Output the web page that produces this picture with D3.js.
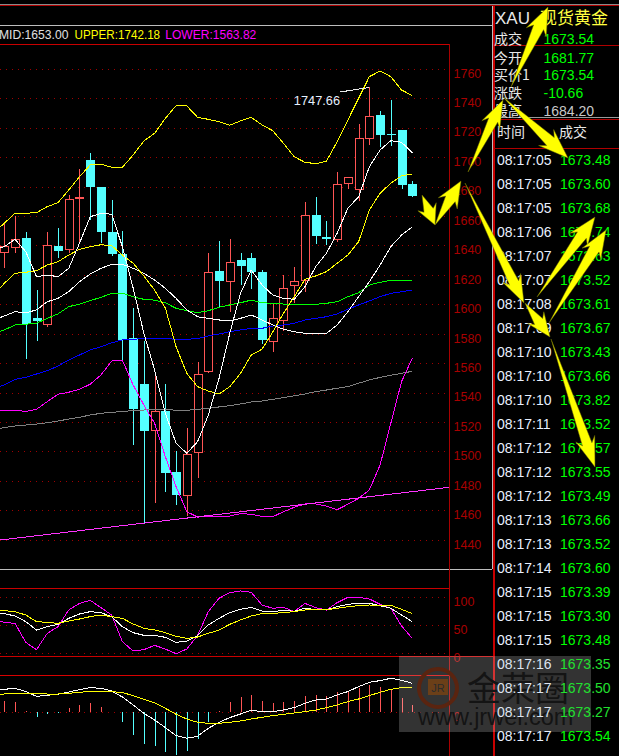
<!DOCTYPE html>
<html>
<head>
<meta charset="utf-8">
<script src="https://cdn.jsdelivr.net/npm/d3@7/dist/d3.min.js"></script>
<style>
  html, body { margin: 0; padding: 0; background: #000; overflow: hidden; }
  text { font-family: "Liberation Sans", Arial, sans-serif; }
  .cjk { font-family: "Noto Sans CJK SC", sans-serif; }
</style>
</head>
<body>
<div class="canvas"></div>
<script>
// candles: top of body, bottom of body, high, low, rising?
const bodyTop = [1639.5,1644.5,1645.4,1590.8,1640.4,1640,1671.7,1673.1,1698.4,1680,1649.5,1634.5,1577.2,1546.2,1527.6,1528,1486.4,1498.6,1552.8,1622.1,1623,1628.9,1630.4,1631.8,1622.5,1590.8,1611.2,1615.7,1660.8,1661,1646,1681.9,1686.6,1713.1,1728.1,1728.8,1715.8,1718.8,1681.9];
const bodyBottom = [1635.7,1639.1,1586.8,1589,1586.8,1636.8,1637.7,1672.8,1680.2,1649.7,1634.5,1576.1,1529.2,1514.5,1514.5,1485.9,1471,1470.3,1499.5,1554.6,1616.2,1615.7,1626.4,1622.5,1576.1,1574.9,1589.2,1613,1616.6,1646.7,1644.9,1644.2,1682.3,1678.5,1713.1,1715.6,1715.5,1681.6,1674.1];
const highs = [1655.6,1660.3,1649.7,1610.1,1649.5,1652,1674.6,1692.3,1702.9,1680,1671.2,1650.1,1598,1575.4,1553.9,1546.2,1500.5,1516.3,1561.1,1635,1643.4,1644.7,1635,1635,1623.6,1601.2,1620.2,1625.5,1669.8,1673.2,1656.9,1690.2,1686.6,1722.8,1747.66,1731.7,1739.1,1718.8,1684.1];
const lows = [1625,1635.4,1563,1575.6,1585.1,1631.8,1635,1642.9,1657.6,1642.2,1633.2,1562.5,1504.7,1451.6,1465.6,1473,1464,1456.5,1482.5,1553.5,1597.6,1595.3,1613.5,1610.7,1573.4,1568.1,1582.4,1601.2,1608.9,1641.3,1640.4,1642.7,1678.7,1670.5,1708.8,1707.4,1707.9,1678.9,1673.4];
const rising = [1,1,0,0,1,0,1,1,0,0,0,0,0,0,1,0,0,1,1,1,0,1,0,0,0,1,1,1,1,0,0,1,1,1,1,0,0,0,0];

// overlay lines, first value sits one bar left of the first candle
const upper = [1648.8,1655.4,1662.2,1662.2,1662.6,1666.7,1669.4,1678,1687,1695,1695.5,1693.4,1693.4,1701.8,1711.3,1716.5,1726.7,1735.3,1735.1,1727.4,1726,1724.4,1722,1724.9,1727.4,1722.2,1718.3,1709.7,1700.6,1696.8,1695.9,1697.5,1710.8,1725.6,1740.3,1755,1758.8,1755,1745.9,1742.18];
const mid = [1589.7,1592.4,1595.3,1594.6,1596.5,1602.1,1604.4,1608.9,1615.7,1620.9,1624.8,1627.5,1627.5,1624.8,1621.4,1616.8,1611.2,1604.4,1596.5,1591.9,1590.8,1589.7,1589,1590.8,1593.1,1589.7,1586.3,1583.4,1581.7,1580.6,1580.6,1580.6,1586.3,1595.3,1605.5,1615.7,1627,1639.5,1647.4,1653];
const lower = [1528.3,1528.3,1528.3,1527.6,1529,1534.2,1539.2,1540.6,1542.6,1546,1552.3,1561.8,1562.3,1545.5,1531.9,1519.5,1496.8,1476.4,1459.4,1455.8,1456,1456.5,1456.5,1458.1,1457.7,1456.3,1456,1459.4,1462.4,1464.7,1464.7,1463.3,1460.8,1464.5,1468.5,1474.2,1491.2,1519.5,1547.8,1563.82];
const ma5 = [1637,1639.5,1644.5,1636.1,1619.1,1620.2,1619.1,1624.8,1641.8,1659.8,1662.2,1661.5,1639.5,1611.4,1580.6,1555.7,1526.3,1505.9,1499.1,1507,1525.1,1550,1580.6,1607.8,1623.6,1613.5,1606.7,1604.4,1603.7,1612.3,1625.9,1635,1648.6,1665.6,1673.4,1693.8,1705.2,1711.5,1710.4,1703.3];
const ma10 = [1606.6,1614.6,1621.4,1622.1,1623.2,1627,1629.3,1633.8,1637.7,1639.5,1640.8,1640.2,1633.8,1628.2,1619.6,1610,1597.8,1571.5,1553.4,1544.4,1541.4,1539.4,1544.4,1553.4,1565.9,1569.8,1581.5,1594.2,1605.5,1617.3,1619.6,1622.5,1628.2,1633.8,1642.9,1664.4,1675.8,1682.6,1687.7,1688.9];
const ma30 = [1580.8,1582.9,1586.3,1586.8,1587.4,1590.8,1593.8,1598.7,1600.5,1602.8,1605.1,1607.8,1607.8,1605.5,1603.7,1603.2,1601.4,1597.6,1596,1594.6,1596,1598.3,1599.9,1601.4,1603.2,1601.4,1601,1600.5,1600.3,1600.3,1600.3,1601,1602.1,1605.5,1608.2,1613.4,1615.3,1616.6,1616.6,1616.6];
const ma60 = [1543.5,1545.5,1549.4,1550.7,1553,1555.2,1558.4,1562.5,1565.9,1569.3,1571.5,1574.2,1576.1,1576.6,1577,1577,1577,1576.6,1576.6,1577,1578.8,1580.2,1581.7,1582.9,1584,1584,1585.6,1586.3,1587.4,1589.7,1590.8,1591.9,1593.8,1597,1599.9,1602.6,1605.5,1607.8,1608.9,1610.1];
const ma120 = [1515.4,1516.6,1517.7,1518.3,1519,1519.9,1521,1522.4,1523.6,1525.1,1526.3,1527,1527.4,1528.3,1528.5,1529,1529,1528.3,1528.3,1529,1529.7,1530.6,1531.5,1532.6,1534,1534.6,1535.8,1536.9,1538.2,1539.4,1541,1542.1,1543.3,1544.4,1546.7,1548.9,1550.7,1552.1,1553.5,1554.8];
// hand drawn trend line on the price chart: [bar index, price]
const trendLine = [[-0.4,1440.2],[41.43,1476]];

// kdj panel
const kLine = [71.6,71,66.9,56.8,42,47.9,52.1,62.7,70.4,74.6,72.8,65.7,47.9,37.3,32.5,32.5,29,20.1,22.5,32,50.9,62.7,72.8,78.7,82.2,75.7,74.6,76.9,75.1,80.5,78.1,77.5,83.4,87.6,89.3,89.3,85.2,80.5,68.6,56.8];
const dLine = [78.7,76.3,74.6,68.6,56.8,55.6,53.8,58,61.5,65.7,68.6,65.7,62.7,52.7,45,42,37.3,30.8,27.2,29.6,36.1,42,52.1,59.8,66.9,71,71.6,72.8,74.6,77.5,77.5,78.1,80.5,83.4,85.2,86.4,85.8,85.8,78.7,71];
const jLine = [59.8,55.6,53.8,20.1,7.1,36.1,47.9,77.5,89.3,94.7,81.7,68.6,21.3,4.7,7.1,14.8,8.3,0,8.3,32,74.6,98.2,108.3,111.2,108.9,86.4,80.5,82.2,74.6,89.3,81.7,77.5,90.5,100,100,97,87.6,80.5,49.1,27.2];

// macd panel
const difLine = [23,23,24,20.7,16,17,18,20.3,22.7,24.7,24,21.3,15.3,7.3,-1,-7.7,-15.3,-23.3,-26,-24,-16,-10,-5.3,-1.7,2,0.7,0.7,2.3,4.7,9,12.3,13.3,17.3,20.7,25.7,30,31.7,34,32,29];
const deaLine = [18,18.3,18.7,19,18.7,18.3,18.3,19,20,21,21,20.7,19.7,16.7,13,9.3,4,-2,-6.7,-10,-11,-11,-10,-8.7,-6.7,-5,-3.3,-2,-0.7,0.7,2.3,4.7,7.3,10.7,13.3,16.7,20,23,24.7,25];
const macdBars = [11.3,10.3,1.3,-4.7,-1.7,-0.3,4,7.3,9.3,5.3,0,-9.3,-22.7,-31.7,-33.3,-39.3,-42.7,-38.3,-26.7,-10,1.3,10.7,15.3,17.3,11.7,9.7,10.3,11.7,16.3,17.3,16.3,20.3,21,24.3,27.3,25.3,22.7,14.3,7.3];

// axis ticks
const priceTicks = d3.range(1440, 1761, 20);
const kdjTicks = [0, 50, 100];

// quote panel
const quoteLabels = ['成交','今开','买价1','涨跌','最高'];
const quoteValues = ['1673.54','1681.77','1673.54','-10.66','1684.20'];
const tickTimes = ['08:17:05','08:17:05','08:17:05','08:17:06','08:17:07','08:17:07','08:17:08','08:17:09','08:17:10','08:17:10','08:17:10','08:17:11','08:17:12','08:17:12','08:17:12','08:17:13','08:17:13','08:17:14','08:17:15','08:17:15','08:17:15','08:17:16','08:17:17','08:17:17','08:17:17'];
const tickPrices = ['1673.48','1673.60','1673.68','1673.74','1673.63','1673.52','1673.61','1673.67','1673.43','1673.66','1673.82','1673.52','1673.57','1673.55','1673.49','1673.66','1673.52','1673.60','1673.39','1673.30','1673.48','1673.35','1673.50','1673.27','1673.54'];

// pasted arrows: x1,y1 tail, x2,y2 tip, head length, head half width
const arrows = [
  [422,195,435,225,20,10],
  [435,225,461,181,26,11],
  [468,172,503,100,28,10],
  [511,87,548,7,28,11],
  [503,97,568,158,30,11],
  [465,183,524,303,28,10],
  [525,303,550,337,24,10],
  [551,339,595,467,30,10],
  [537,297,595,217,28,11],
  [549,323,606,230,28,11]
];

const width = 619, height = 756;
const svg = d3.select('.canvas').append('svg')
  .attr('width', width).attr('height', height)
  .style('display', 'block').style('background', '#000');

const x = d3.scaleLinear().domain([0, 38]).range([4.3, 412.3]);
const y = d3.scaleLinear().domain([1760, 1440]).range([69.3, 540.3]);
const yKdj = d3.scaleLinear().domain([100, 0]).range([597.3, 653.7]);
const yMacd = d3.scaleLinear().domain([0, -10]).range([712.3, 722.3]);

const axisRed = '#a80000', frameRed = '#c80000', frameGray = '#bdbdbd';
const candleRed = '#ff5555', candleCyan = '#54ffff';

svg.append('clipPath').attr('id', 'plot').append('rect')
  .attr('width', 449).attr('height', height);

function hline(g, yv, x1, x2, color) {
  g.append('line').attr('x1', x1).attr('x2', x2).attr('y1', yv).attr('y2', yv)
    .attr('stroke', color).attr('shape-rendering', 'crispEdges');
}
function vline(g, xv, y1, y2, color, w) {
  g.append('line').attr('x1', xv).attr('x2', xv).attr('y1', y1).attr('y2', y2)
    .attr('stroke', color).attr('stroke-width', w || 1).attr('shape-rendering', 'crispEdges');
}

// dotted grid
const grid = svg.append('g').attr('stroke', '#a00000').attr('stroke-dasharray', '1 5').attr('shape-rendering', 'crispEdges');
const gridY = priceTicks.map(y).concat(kdjTicks.map(yKdj), [yMacd(0)]);
grid.selectAll('line').data(gridY).join('line')
  .attr('x1', 0).attr('x2', 449).attr('y1', d => d).attr('y2', d => d);

// frames
const frame = svg.append('g');
hline(frame, 25.5, 0, 492, frameGray);
hline(frame, 44.5, 0, 449, frameRed);
hline(frame, 569.5, 0, 492, frameGray);
hline(frame, 588.5, 0, 449, frameRed);
hline(frame, 656.5, 0, 493, frameRed);
hline(frame, 675.5, 0, 449, '#d80000');
vline(frame, 449.5, 44, 756, axisRed);
hline(frame, 4.5, 0, 619, '#8a8a8a');
hline(frame, 5.5, 0, 619, '#b00000');
vline(frame, 492.5, 6, 569, frameGray);
vline(frame, 494, 6, 756, '#c80000', 2);
hline(frame, 45.5, 494, 619, '#b00000');
hline(frame, 117.5, 494, 619, '#9a9a9a');
hline(frame, 119.5, 494, 619, '#b00000');
hline(frame, 148.5, 494, 619, '#b00000');

const plot = svg.append('g').attr('clip-path', 'url(#plot)');

// candles
const candles = plot.append('g').attr('shape-rendering', 'crispEdges');
bodyTop.forEach((t, i) => {
  const color = rising[i] ? candleRed : candleCyan;
  const cx = Math.round(x(i)) + 0.5;
  candles.append('line').attr('x1', cx).attr('x2', cx)
    .attr('y1', y(highs[i])).attr('y2', y(lows[i])).attr('stroke', color);
  const h = Math.max(y(bodyBottom[i]) - y(t), 1);
  if (rising[i]) {
    candles.append('rect').attr('x', cx - 4).attr('y', y(t)).attr('width', 8).attr('height', h)
      .attr('fill', '#000').attr('stroke', color);
  } else {
    candles.append('rect').attr('x', cx - 4.5).attr('y', y(t)).attr('width', 9).attr('height', h)
      .attr('fill', color);
  }
});

const lineX = (d, i) => x(i - 1);
const priceLine = d3.line().x(lineX).y(d => y(d));
const kdjLine = d3.line().x(lineX).y(d => yKdj(d));
const macdLine = d3.line().x(lineX).y(d => yMacd(d));

function drawLine(gen, values, color) {
  plot.append('path').attr('d', gen(values)).attr('fill', 'none')
    .attr('stroke', color).attr('shape-rendering', 'crispEdges');
}

drawLine(priceLine, ma120, '#808080');
drawLine(priceLine, ma60, '#0000ff');
drawLine(priceLine, ma30, '#00ff00');
drawLine(priceLine, mid, '#ffffff');
drawLine(priceLine, lower, '#ff00ff');
drawLine(priceLine, upper, '#ffff00');
drawLine(priceLine, ma10, '#ffff00');
drawLine(priceLine, ma5, '#ffffff');

plot.append('path')
  .attr('d', d3.line().x(d => x(d[0])).y(d => y(d[1]))(trendLine))
  .attr('stroke', '#ff33ff').attr('fill', 'none').attr('shape-rendering', 'crispEdges');

// high marker
const hiIndex = highs.indexOf(d3.max(highs));
svg.append('line')
  .attr('x1', x(hiIndex) - 29).attr('y1', y(highs[hiIndex]) + 4.5)
  .attr('x2', x(hiIndex)).attr('y2', y(highs[hiIndex]))
  .attr('stroke', '#e8e8e8').attr('shape-rendering', 'crispEdges');
svg.append('text').attr('x', x(hiIndex) - 75.5).attr('y', y(highs[hiIndex]) + 17.5)
  .attr('fill', '#e4f0ff').attr('font-size', 12.8).text(d3.max(highs).toFixed(2));

// kdj
drawLine(kdjLine, jLine, '#ff00ff');
drawLine(kdjLine, kLine, '#ffffff');
drawLine(kdjLine, dLine, '#ffff00');

// macd
plot.append('g').attr('shape-rendering', 'crispEdges').selectAll('line').data(macdBars).join('line')
  .attr('x1', (d, i) => Math.round(x(i)) + 0.5).attr('x2', (d, i) => Math.round(x(i)) + 0.5)
  .attr('y1', yMacd(0)).attr('y2', d => yMacd(d))
  .attr('stroke', d => d >= 0 ? candleRed : candleCyan);
drawLine(macdLine, difLine, '#ffffff');
drawLine(macdLine, deaLine, '#ffff00');

// axes
function drawAxis(scale, ticks) {
  const g = svg.append('g').attr('transform', 'translate(449.5,0)')
    .call(d3.axisRight(scale).tickValues(ticks).tickSize(0).tickPadding(4).tickFormat(d3.format('d')));
  g.select('.domain').remove();
  g.selectAll('text').attr('fill', axisRed).attr('dy', 7.8).attr('font-size', 12.5)
    .attr('font-family', '"Liberation Sans", Arial, sans-serif');
}
drawAxis(y, priceTicks);
drawAxis(yKdj, kdjTicks);
drawAxis(yMacd, [0]);

// legend
function legend(xv, len, color, label) {
  svg.append('text').attr('x', xv).attr('y', 38.5).attr('font-size', 12.6).attr('fill', color)
    .attr('textLength', len).attr('lengthAdjust', 'spacingAndGlyphs').text(label);
}
legend(-1, 69.5, '#e0e0e0', 'MID:' + mid[mid.length - 1].toFixed(2));
legend(74.6, 85.5, '#ffff00', 'UPPER:' + upper[upper.length - 1].toFixed(2));
legend(165.3, 91, '#ff00ff', 'LOWER:' + lower[lower.length - 1].toFixed(2));

// watermark plate and dark logo sit under the quote text
const wm = svg.append('g');
wm.append('rect').attr('x', 399).attr('y', 656).attr('width', 192).attr('height', 76).attr('fill', '#fff').attr('opacity', 0.2);
wm.append('circle').attr('cx', 438).attr('cy', 688).attr('r', 19).attr('fill', 'none').attr('stroke', '#5a2410').attr('stroke-width', 4);
wm.append('rect').attr('x', 428).attr('y', 679).attr('width', 20).attr('height', 16).attr('fill', '#6b3f18');
wm.append('text').attr('x', 438).attr('y', 692).attr('text-anchor', 'middle').attr('font-size', 11).attr('fill', '#2c2c2c').text('JR');
wm.append('text').attr('class', 'cjk').attr('x', 467).attr('y', 701).attr('font-size', 34).attr('fill', '#141414').text('金荣圈');
wm.append('text').attr('x', 418).attr('y', 725).attr('font-size', 23.5).attr('fill', '#141414').text('www.jrwei.com');

// quote panel
const panel = svg.append('g');
panel.append('text').attr('x', 495).attr('y', 24).attr('font-size', 17).attr('fill', '#e8e8e8').text('XAU');
panel.append('text').attr('class', 'cjk').attr('x', 540).attr('y', 24).attr('font-size', 17).attr('fill', '#ffff40').text('现货黄金');
const quoteBase = [44, 62.5, 80, 97.5, 116];
const quoteColor = ['#00ff00','#00ff00','#00ff00','#00ff00','#c8c8c8'];
quoteLabels.forEach((d, i) => {
  panel.append('text').attr('class', 'cjk').attr('x', 494).attr('y', quoteBase[i]).attr('font-size', 14).attr('fill', '#e8e8e8').text(d);
  panel.append('text').attr('x', 543.5).attr('y', quoteBase[i]).attr('font-size', 14).attr('fill', quoteColor[i]).text(quoteValues[i]);
});
panel.append('text').attr('class', 'cjk').attr('x', 497).attr('y', 137).attr('font-size', 14).attr('fill', '#e8e8e8').text('时间');
panel.append('text').attr('class', 'cjk').attr('x', 559).attr('y', 137).attr('font-size', 14).attr('fill', '#e8e8e8').text('成交');
tickTimes.forEach((t, i) => {
  const b = 165 + i * 24;
  const dim = b > 656 && b < 732; // rows under the watermark plate look a bit washed out
  panel.append('text').attr('x', 497).attr('y', b).attr('font-size', 14).attr('fill', dim ? '#dde4f0' : '#e8f0ff').text(t);
  panel.append('text').attr('x', 560).attr('y', b).attr('font-size', 14).attr('fill', dim ? '#22e030' : '#00ff00').text(tickPrices[i]);
});

// arrows on top
function arrowPath(a) {
  const [x1, y1, x2, y2, head, half] = a;
  const len = Math.hypot(x2 - x1, y2 - y1), ux = (x2 - x1) / len, uy = (y2 - y1) / len;
  const pt = (back, side) => [x2 - ux * back - uy * side, y2 - uy * back + ux * side];
  const neck = head * 0.8;
  return d3.line()([[x1, y1], pt(neck, half * 0.5), pt(head, half), [x2, y2], pt(head, -half), pt(neck, -half * 0.5)]) + 'Z';
}
svg.append('g').selectAll('path').data(arrows).join('path')
  .attr('d', arrowPath).attr('fill', '#ffff00').attr('stroke', '#6a6a00').attr('stroke-width', 0.5);
</script>
</body>
</html>
